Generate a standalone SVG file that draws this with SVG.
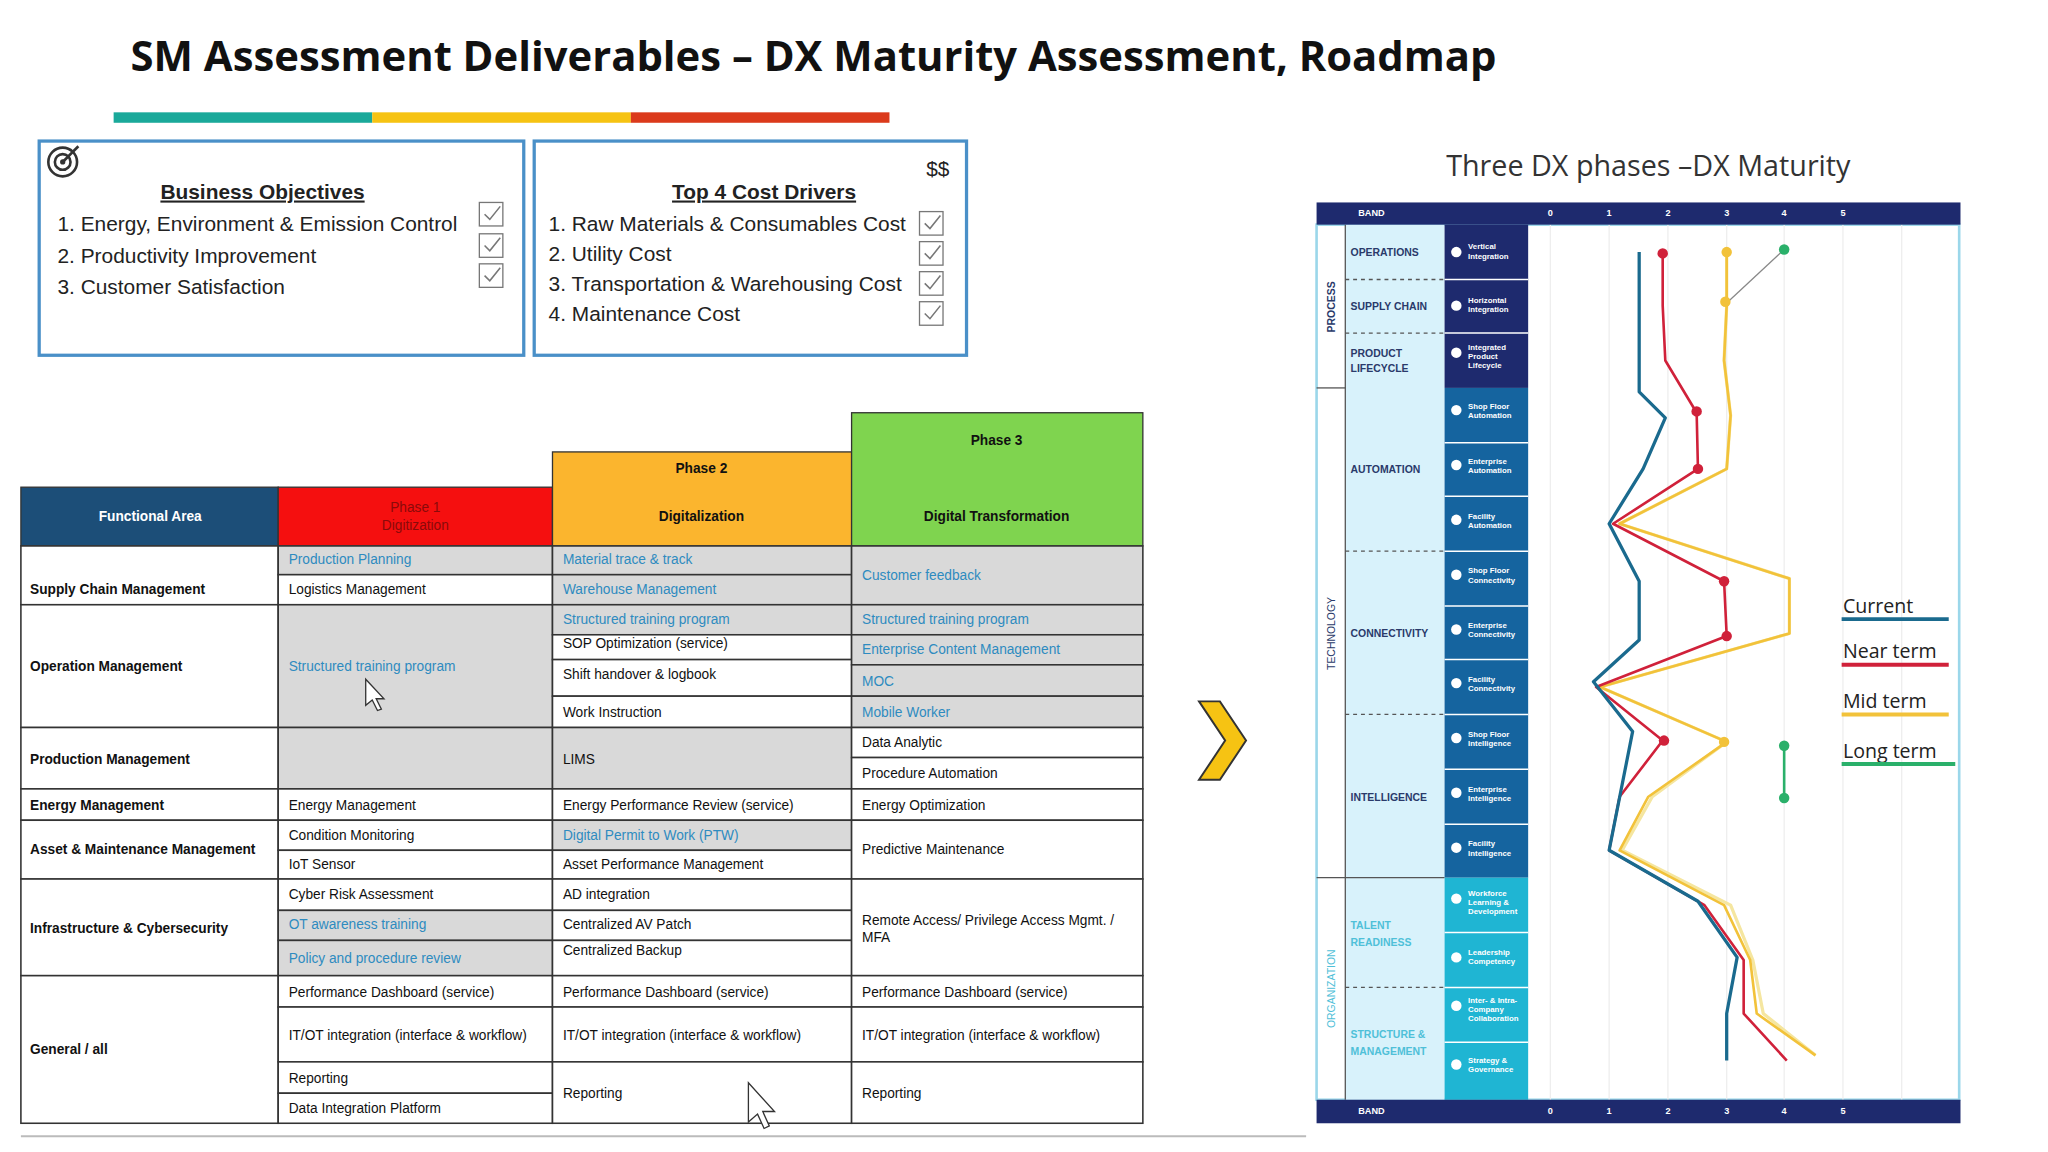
<svg xmlns="http://www.w3.org/2000/svg" width="2048" height="1152" viewBox="0 0 2048 1152">
<style>
.t{font-family:"Liberation Sans",Arial,sans-serif;font-size:10.5px;fill:#111}
.b{font-weight:bold}
.bl{fill:#2e8bc0}
.c{stroke:#333;stroke-width:1.2;fill:#fff}
.g{stroke:#333;stroke-width:1.2;fill:#d9d9d9}
.obj{font-family:"Liberation Sans",Arial,sans-serif;font-size:16px;fill:#222}
.cb{fill:#fff;stroke:#777;stroke-width:1}
.ck{fill:none;stroke:#777;stroke-width:1.2}
.w{font-family:"Liberation Sans",Arial,sans-serif;font-size:6px;fill:#fff;font-weight:bold}
.cat{font-family:"Liberation Sans",Arial,sans-serif;font-size:8px;fill:#2a3a6a;font-weight:bold}
.leg{font-family:"Open Sans","Liberation Sans",sans-serif;font-size:15px;fill:#222}
</style>
<rect width="2048" height="1152" fill="#fff"/>
<g transform="scale(1.30612)">
<text x="100" y="54" font-family="Open Sans,Liberation Sans,sans-serif" font-weight="bold" font-size="32" fill="#111">SM Assessment Deliverables – DX Maturity Assessment, Roadmap</text>
<rect x="87" y="86" width="198" height="8" fill="#1aa99a"/>
<rect x="285" y="86" width="198" height="8" fill="#f6c313"/>
<rect x="483" y="86" width="198" height="8" fill="#db3a1b"/>

<g id="objectives">
<rect x="30" y="108" width="371" height="164" fill="#fff" stroke="#4a90c8" stroke-width="2.5"/>
<circle cx="48" cy="124" r="11" fill="none" stroke="#333" stroke-width="2"/><circle cx="48" cy="124" r="6" fill="none" stroke="#333" stroke-width="2"/><circle cx="48" cy="124" r="2" fill="#333"/><line x1="48" y1="124" x2="60" y2="112" stroke="#333" stroke-width="2"/>
<text x="201" y="152" text-anchor="middle" class="obj b" font-size="19" text-decoration="underline">Business Objectives</text>
<text x="44" y="177" class="obj">1.  Energy, Environment &amp; Emission Control</text>
<text x="44" y="201" class="obj">2.  Productivity Improvement</text>
<text x="44" y="225" class="obj">3.  Customer Satisfaction</text>
<rect x="367" y="155" width="18" height="18" class="cb"/><path d="M371 164l4 4 8-10" class="ck"/>
<rect x="367" y="179" width="18" height="18" class="cb"/><path d="M371 188l4 4 8-10" class="ck"/>
<rect x="367" y="202" width="18" height="18" class="cb"/><path d="M371 211l4 4 8-10" class="ck"/>
</g>
<g id="costs">
<rect x="409" y="108" width="331" height="164" fill="#fff" stroke="#4a90c8" stroke-width="2.5"/>
<text x="718" y="135" text-anchor="middle" class="obj" font-size="24">$$</text>
<text x="585" y="152" text-anchor="middle" class="obj b" font-size="19" text-decoration="underline">Top 4 Cost Drivers</text>
<text x="420" y="177" class="obj">1.  Raw Materials &amp; Consumables Cost</text>
<text x="420" y="200" class="obj">2.  Utility Cost</text>
<text x="420" y="223" class="obj">3.  Transportation &amp; Warehousing Cost</text>
<text x="420" y="246" class="obj">4.  Maintenance Cost</text>
<rect x="704" y="162" width="18" height="18" class="cb"/><path d="M708 171l4 4 8-10" class="ck"/>
<rect x="704" y="185" width="18" height="18" class="cb"/><path d="M708 194l4 4 8-10" class="ck"/>
<rect x="704" y="208" width="18" height="18" class="cb"/><path d="M708 217l4 4 8-10" class="ck"/>
<rect x="704" y="231" width="18" height="18" class="cb"/><path d="M708 240l4 4 8-10" class="ck"/>
</g>

<g id="table">
<rect x="16" y="373" width="197" height="45" fill="#1c4e78" stroke="#333"/>
<text x="115" y="399" text-anchor="middle" class="t b" fill="#fff" style="fill:#fff">Functional Area</text>
<rect x="213" y="373" width="210" height="45" fill="#f50f0f" stroke="#333"/>
<text x="318" y="392" text-anchor="middle" class="t" style="fill:#8a0a0a">Phase 1</text>
<text x="318" y="406" text-anchor="middle" class="t" style="fill:#8a0a0a">Digitization</text>
<rect x="423" y="346" width="229" height="72" fill="#fbb52e" stroke="#333"/>
<text x="537" y="362" text-anchor="middle" class="t b">Phase 2</text>
<text x="537" y="399" text-anchor="middle" class="t b">Digitalization</text>
<rect x="652" y="316" width="223" height="102" fill="#7fd44f" stroke="#333"/>
<text x="763" y="341" text-anchor="middle" class="t b">Phase 3</text>
<text x="763" y="399" text-anchor="middle" class="t b">Digital Transformation</text>

<!-- functional area -->
<rect x="16" y="418" width="197" height="45" class="c"/><text x="23" y="455" class="t b">Supply Chain Management</text>
<rect x="16" y="463" width="197" height="94" class="c"/><text x="23" y="514" class="t b">Operation Management</text>
<rect x="16" y="557" width="197" height="47" class="c"/><text x="23" y="585" class="t b">Production Management</text>
<rect x="16" y="604" width="197" height="24" class="c"/><text x="23" y="620" class="t b">Energy Management</text>
<rect x="16" y="628" width="197" height="45" class="c"/><text x="23" y="654" class="t b">Asset &amp; Maintenance Management</text>
<rect x="16" y="673" width="197" height="74" class="c"/><text x="23" y="714" class="t b">Infrastructure &amp; Cybersecurity</text>
<rect x="16" y="747" width="197" height="113" class="c"/><text x="23" y="807" class="t b">General / all</text>

<!-- phase 1 -->
<rect x="213" y="418" width="210" height="22" class="g"/><text x="221" y="432" class="t bl">Production Planning</text>
<rect x="213" y="440" width="210" height="23" class="c"/><text x="221" y="455" class="t">Logistics Management</text>
<rect x="213" y="463" width="210" height="94" class="g"/><text x="221" y="514" class="t bl">Structured training program</text>
<rect x="213" y="557" width="210" height="47" class="g"/>
<rect x="213" y="604" width="210" height="24" class="c"/><text x="221" y="620" class="t">Energy Management</text>
<rect x="213" y="628" width="210" height="23" class="c"/><text x="221" y="643" class="t">Condition Monitoring</text>
<rect x="213" y="651" width="210" height="22" class="c"/><text x="221" y="665" class="t">IoT Sensor</text>
<rect x="213" y="673" width="210" height="24" class="c"/><text x="221" y="688" class="t">Cyber Risk Assessment</text>
<rect x="213" y="697" width="210" height="23" class="g"/><text x="221" y="711" class="t bl">OT awareness training</text>
<rect x="213" y="720" width="210" height="27" class="g"/><text x="221" y="737" class="t bl">Policy and procedure review</text>
<rect x="213" y="747" width="210" height="24" class="c"/><text x="221" y="763" class="t">Performance Dashboard (service)</text>
<rect x="213" y="771" width="210" height="42" class="c"/><text x="221" y="796" class="t">IT/OT integration (interface &amp; workflow)</text>
<rect x="213" y="813" width="210" height="24" class="c"/><text x="221" y="829" class="t">Reporting</text>
<rect x="213" y="837" width="210" height="23" class="c"/><text x="221" y="852" class="t">Data Integration Platform</text>

<!-- phase 2 -->
<rect x="423" y="418" width="229" height="22" class="g"/><text x="431" y="432" class="t bl">Material trace &amp; track</text>
<rect x="423" y="440" width="229" height="23" class="g"/><text x="431" y="455" class="t bl">Warehouse Management</text>
<rect x="423" y="463" width="229" height="23" class="g"/><text x="431" y="478" class="t bl">Structured training program</text>
<rect x="423" y="486" width="229" height="19" class="c"/><text x="431" y="496" class="t">SOP Optimization (service)</text>
<rect x="423" y="505" width="229" height="28" class="c"/><text x="431" y="520" class="t">Shift handover &amp; logbook</text>
<rect x="423" y="533" width="229" height="24" class="c"/><text x="431" y="549" class="t">Work Instruction</text>
<rect x="423" y="557" width="229" height="47" class="g"/><text x="431" y="585" class="t">LIMS</text>
<rect x="423" y="604" width="229" height="24" class="c"/><text x="431" y="620" class="t">Energy Performance Review (service)</text>
<rect x="423" y="628" width="229" height="23" class="g"/><text x="431" y="643" class="t bl">Digital Permit to Work (PTW)</text>
<rect x="423" y="651" width="229" height="22" class="c"/><text x="431" y="665" class="t">Asset Performance Management</text>
<rect x="423" y="673" width="229" height="24" class="c"/><text x="431" y="688" class="t">AD integration</text>
<rect x="423" y="697" width="229" height="23" class="c"/><text x="431" y="711" class="t">Centralized AV Patch</text>
<rect x="423" y="720" width="229" height="27" class="c"/><text x="431" y="731" class="t">Centralized Backup</text>
<rect x="423" y="747" width="229" height="24" class="c"/><text x="431" y="763" class="t">Performance Dashboard (service)</text>
<rect x="423" y="771" width="229" height="42" class="c"/><text x="431" y="796" class="t">IT/OT integration (interface &amp; workflow)</text>
<rect x="423" y="813" width="229" height="47" class="c"/><text x="431" y="841" class="t">Reporting</text>

<!-- phase 3 -->
<rect x="652" y="418" width="223" height="45" class="g"/><text x="660" y="444" class="t bl">Customer feedback</text>
<rect x="652" y="463" width="223" height="23" class="g"/><text x="660" y="478" class="t bl">Structured training program</text>
<rect x="652" y="486" width="223" height="23" class="g"/><text x="660" y="501" class="t bl">Enterprise Content Management</text>
<rect x="652" y="509" width="223" height="24" class="g"/><text x="660" y="525" class="t bl">MOC</text>
<rect x="652" y="533" width="223" height="24" class="g"/><text x="660" y="549" class="t bl">Mobile Worker</text>
<rect x="652" y="557" width="223" height="23" class="c"/><text x="660" y="572" class="t">Data Analytic</text>
<rect x="652" y="580" width="223" height="24" class="c"/><text x="660" y="596" class="t">Procedure Automation</text>
<rect x="652" y="604" width="223" height="24" class="c"/><text x="660" y="620" class="t">Energy Optimization</text>
<rect x="652" y="628" width="223" height="45" class="c"/><text x="660" y="654" class="t">Predictive Maintenance</text>
<rect x="652" y="673" width="223" height="74" class="c"/><text x="660" y="708" class="t">Remote Access/ Privilege Access Mgmt. /</text><text x="660" y="721" class="t">MFA</text>
<rect x="652" y="747" width="223" height="24" class="c"/><text x="660" y="763" class="t">Performance Dashboard (service)</text>
<rect x="652" y="771" width="223" height="42" class="c"/><text x="660" y="796" class="t">IT/OT integration (interface &amp; workflow)</text>
<rect x="652" y="813" width="223" height="47" class="c"/><text x="660" y="841" class="t">Reporting</text>
</g>
<line x1="16" y1="870" x2="1000" y2="870" stroke="#bbb" stroke-width="1.5"/>
<!-- cursors -->
<path d="M280 520v20l5-4 4 8 3-1-4-8 6 0z" fill="#fff" stroke="#333" stroke-width="1"/>
<path d="M573 829v30l7-6 5 11 4-2-5-11 9 0z" fill="#fff" stroke="#333" stroke-width="1"/>
<!-- chevron -->
<path d="M918 537h16l20 30-20 30h-16l20-30z" fill="#f6c313" stroke="#333" stroke-width="1.5"/>

<g id="chart">
<text x="1262" y="135" text-anchor="middle" font-family="Open Sans,Liberation Sans,sans-serif" font-size="22" fill="#333">Three DX phases –DX Maturity</text>
<rect x="1008" y="172" width="492" height="670" fill="#fff" stroke="#9bd7ea" stroke-width="2"/>
<rect x="1030" y="172" width="76" height="670" fill="#d8f2fb"/>
<line x1="1030" y1="172" x2="1030" y2="842" stroke="#555"/>
<line x1="1008" y1="297" x2="1030" y2="297" stroke="#555"/>
<line x1="1008" y1="672" x2="1106" y2="672" stroke="#555"/>
<g stroke="#555" stroke-dasharray="3,3">
<line x1="1030" y1="255" x2="1106" y2="255"/><line x1="1030" y1="214" x2="1106" y2="214"/>
<line x1="1030" y1="422" x2="1106" y2="422"/><line x1="1030" y1="547" x2="1106" y2="547"/><line x1="1030" y1="756" x2="1106" y2="756"/>
</g>
<rect x="1106" y="172" width="64" height="125" fill="#1e2a6e"/>
<rect x="1106" y="297" width="64" height="375" fill="#15649f"/>
<rect x="1106" y="672" width="64" height="170" fill="#1fb5d3"/>
<g stroke="#fff" stroke-width="1.2">
<line x1="1106" y1="214" x2="1170" y2="214"/><line x1="1106" y1="255" x2="1170" y2="255"/><line x1="1106" y1="339" x2="1170" y2="339"/><line x1="1106" y1="380" x2="1170" y2="380"/><line x1="1106" y1="422" x2="1170" y2="422"/><line x1="1106" y1="464" x2="1170" y2="464"/><line x1="1106" y1="505" x2="1170" y2="505"/><line x1="1106" y1="547" x2="1170" y2="547"/><line x1="1106" y1="589" x2="1170" y2="589"/><line x1="1106" y1="631" x2="1170" y2="631"/><line x1="1106" y1="714" x2="1170" y2="714"/><line x1="1106" y1="756" x2="1170" y2="756"/><line x1="1106" y1="798" x2="1170" y2="798"/>
</g>
<g fill="#fff">
<circle cx="1115" cy="193" r="4"/><circle cx="1115" cy="234" r="4"/><circle cx="1115" cy="270" r="4"/><circle cx="1115" cy="314" r="4"/><circle cx="1115" cy="356" r="4"/><circle cx="1115" cy="398" r="4"/><circle cx="1115" cy="440" r="4"/><circle cx="1115" cy="482" r="4"/><circle cx="1115" cy="523" r="4"/><circle cx="1115" cy="565" r="4"/><circle cx="1115" cy="607" r="4"/><circle cx="1115" cy="649" r="4"/><circle cx="1115" cy="688" r="4"/><circle cx="1115" cy="733" r="4"/><circle cx="1115" cy="770" r="4"/><circle cx="1115" cy="815" r="4"/>
</g>
<g class="w">
<text x="1124" y="191">Vertical</text><text x="1124" y="198">Integration</text>
<text x="1124" y="232">Horizontal</text><text x="1124" y="239">Integration</text>
<text x="1124" y="268">Integrated</text><text x="1124" y="275">Product</text><text x="1124" y="282">Lifecycle</text>
<text x="1124" y="313">Shop Floor</text><text x="1124" y="320">Automation</text>
<text x="1124" y="355">Enterprise</text><text x="1124" y="362">Automation</text>
<text x="1124" y="397">Facility</text><text x="1124" y="404">Automation</text>
<text x="1124" y="439">Shop Floor</text><text x="1124" y="446">Connectivity</text>
<text x="1124" y="481">Enterprise</text><text x="1124" y="488">Connectivity</text>
<text x="1124" y="522">Facility</text><text x="1124" y="529">Connectivity</text>
<text x="1124" y="564">Shop Floor</text><text x="1124" y="571">Intelligence</text>
<text x="1124" y="606">Enterprise</text><text x="1124" y="613">Intelligence</text>
<text x="1124" y="648">Facility</text><text x="1124" y="655">Intelligence</text>
<text x="1124" y="686">Workforce</text><text x="1124" y="693">Learning &amp;</text><text x="1124" y="700">Development</text>
<text x="1124" y="731">Leadership</text><text x="1124" y="738">Competency</text>
<text x="1124" y="768">Inter- &amp; Intra-</text><text x="1124" y="775">Company</text><text x="1124" y="782">Collaboration</text>
<text x="1124" y="814">Strategy &amp;</text><text x="1124" y="821">Governance</text>
</g>
<g class="cat">
<text x="1034" y="196">OPERATIONS</text><text x="1034" y="237">SUPPLY CHAIN</text><text x="1034" y="273">PRODUCT</text><text x="1034" y="285">LIFECYCLE</text>
<text x="1034" y="362">AUTOMATION</text><text x="1034" y="488">CONNECTIVITY</text><text x="1034" y="613">INTELLIGENCE</text>
<text x="1034" y="711" style="fill:#4fc0d8">TALENT</text><text x="1034" y="724" style="fill:#4fc0d8">READINESS</text>
<text x="1034" y="795" style="fill:#4fc0d8">STRUCTURE &amp;</text><text x="1034" y="808" style="fill:#4fc0d8">MANAGEMENT</text>
<text transform="translate(1022 235) rotate(-90)" text-anchor="middle">PROCESS</text>
<text transform="translate(1022 485) rotate(-90)" text-anchor="middle" style="font-weight:normal">TECHNOLOGY</text>
<text transform="translate(1022 757) rotate(-90)" text-anchor="middle" style="fill:#4fc0d8;font-weight:normal">ORGANIZATION</text>
</g>
<g stroke="#eee" stroke-width="1">
<line x1="1187" y1="172" x2="1187" y2="842"/><line x1="1232" y1="172" x2="1232" y2="842"/><line x1="1277" y1="172" x2="1277" y2="842"/><line x1="1322" y1="172" x2="1322" y2="842"/><line x1="1366" y1="172" x2="1366" y2="842"/><line x1="1411" y1="172" x2="1411" y2="842"/><line x1="1456" y1="172" x2="1456" y2="842"/>
</g>
<rect x="1008" y="155" width="493" height="17" fill="#1e2a6e"/>
<rect x="1008" y="842" width="493" height="18" fill="#1e2a6e"/>
<g font-family="Liberation Sans,Arial,sans-serif" font-size="7" font-weight="bold" fill="#fff" text-anchor="middle">
<text x="1050" y="165">BAND</text><text x="1187" y="165">0</text><text x="1232" y="165">1</text><text x="1277" y="165">2</text><text x="1322" y="165">3</text><text x="1366" y="165">4</text><text x="1411" y="165">5</text>
<text x="1050" y="853">BAND</text><text x="1187" y="853">0</text><text x="1232" y="853">1</text><text x="1277" y="853">2</text><text x="1322" y="853">3</text><text x="1366" y="853">4</text><text x="1411" y="853">5</text>
</g>
<g fill="none" stroke-width="2.5" stroke-linejoin="round">
<polyline stroke="#f5e6a0" points="1322,193 1322,234 1320,276 1325,318 1322,359 1240,401 1370,443 1370,485 1225,526 1322,568 1265,610 1242,651 1325,693 1342,735 1350,776 1390,808"/>
<polyline stroke="#f2c23a" stroke-width="2" points="1322,193 1322,234 1320,276 1325,318 1322,359 1240,401 1370,443 1370,485 1225,526 1322,568 1262,610 1240,651 1320,693 1340,735 1345,776 1390,808"/>
<polyline stroke="#d0213a" stroke-width="2" points="1273,193 1273,234 1275,276 1299,316 1300,359 1235,401 1320,445 1322,487 1222,526 1273,567 1240,610 1232,651 1305,693 1335,735 1335,776 1368,812"/>
<polyline stroke="#1a6a8e" points="1255,193 1255,300 1275,320 1258,359 1232,401 1255,445 1255,490 1220,522 1250,560 1232,651 1300,690 1330,733 1322,776 1322,812"/>
<polyline stroke="#888" stroke-width="1" points="1366,191 1322,232"/>
<polyline stroke="#2ab06a" stroke-width="2" points="1366,570 1366,610"/>
</g>
<g>
<circle cx="1273" cy="194" r="4" fill="#d0213a"/><circle cx="1299" cy="315" r="4" fill="#d0213a"/><circle cx="1300" cy="359" r="4" fill="#d0213a"/><circle cx="1320" cy="445" r="4" fill="#d0213a"/><circle cx="1322" cy="487" r="4" fill="#d0213a"/><circle cx="1274" cy="567" r="4" fill="#d0213a"/>
<circle cx="1322" cy="193" r="4" fill="#f2c23a"/><circle cx="1321" cy="231" r="4" fill="#f2c23a"/><circle cx="1320" cy="568" r="4" fill="#f2c23a"/>
<circle cx="1366" cy="191" r="4" fill="#2ab06a"/><circle cx="1366" cy="571" r="4" fill="#2ab06a"/><circle cx="1366" cy="611" r="4" fill="#2ab06a"/>
</g>
<g id="legend">
<text x="1411" y="469" class="leg">Current</text><line x1="1410" y1="474" x2="1492" y2="474" stroke="#1a6a8e" stroke-width="3"/>
<text x="1411" y="504" class="leg">Near term</text><line x1="1410" y1="509" x2="1492" y2="509" stroke="#d0213a" stroke-width="3"/>
<text x="1411" y="542" class="leg">Mid term</text><line x1="1410" y1="547" x2="1492" y2="547" stroke="#f2c23a" stroke-width="3"/>
<text x="1411" y="580" class="leg">Long term</text><line x1="1410" y1="585" x2="1497" y2="585" stroke="#2ab06a" stroke-width="3"/>
</g>
</g>
</g>
</svg>
